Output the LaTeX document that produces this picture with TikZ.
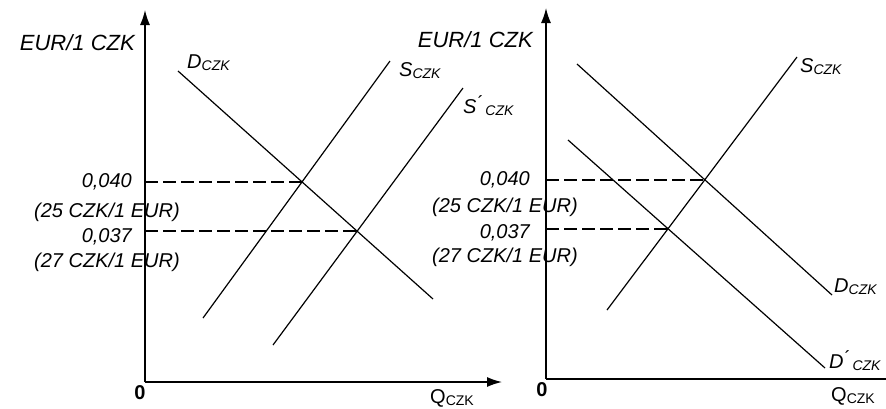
\documentclass[tikz,border=0pt]{standalone}
\usepackage{fontspec}
\setmainfont{Liberation Sans}
\usetikzlibrary{positioning,arrows.meta,calc}
\newcommand{\czk}{\raisebox{-2pt}{\fontsize{14}{14}\selectfont CZK}}
\tikzset{
  ax/.style={line width=1.4pt},
  axarr/.style={ax,-{Latex[length=15pt,width=10pt]}},
  crv/.style={line width=1.2pt},
  dsh/.style={line width=2.4pt,dash pattern=on 13pt off 5pt},
  lbl/.style={font=\fontsize{20}{22}\selectfont\itshape,inner sep=0pt},
  qlbl/.style={font=\fontsize{20}{22}\selectfont,inner sep=0pt},
}

\begin{document}
\begin{tikzpicture}[x=1pt,y=-1pt]
\useasboundingbox (0,0) rectangle (886,408);
% left panel
\coordinate (oL) at (145,382);
\coordinate (yL) at (145,10);
\coordinate (xL) at (502,382);
\coordinate (dL1) at (178,71);
\coordinate (dL2) at (433,299);
\coordinate (sL1) at (203,318);
\coordinate (sL2) at (390,61);
\coordinate (tL1) at (273,345);
\coordinate (tL2) at (463,88);
\coordinate (eqL1) at (intersection of dL1--dL2 and sL1--sL2);
\coordinate (eqL2) at (intersection of dL1--dL2 and tL1--tL2);
\draw[axarr] (oL) -- (yL);
\draw[axarr] (oL) -- (xL);
\draw[crv] (dL1) -- (dL2);
\draw[crv] (sL1) -- (sL2);
\draw[crv] (tL1) -- (tL2);
\draw[dsh] (eqL1 -| oL) -- (eqL1);
\draw[dsh] (eqL2 -| oL) -- (eqL2);
\node[lbl, font=\fontsize{22}{24}\selectfont\itshape, anchor=east] (eurL) at (135,43) {EUR/1 CZK};
\node[lbl, anchor=west] (dLab) at (187,63) {D\czk};
\node[lbl, anchor=west] (sLab) at (399,71) {S\czk};
\node[lbl, anchor=west] (tLab) at (463,106) {S\'{}\,\czk};
\node[qlbl, anchor=west] (qL) at (430,398) {Q\czk};
\node[qlbl, font=\fontsize{20}{22}\selectfont\bfseries, anchor=center] (zL) at (140,393) {0};
\node[lbl, anchor=east] (pL1) at ([xshift=-13pt]eqL1 -| oL) {0,040};
\node[lbl, anchor=east] (rL1) at ([xshift=35pt,yshift=-30pt]eqL1 -| oL) {(25 CZK/1 EUR)};
\node[lbl, anchor=east] (pL2) at ([xshift=-13pt,yshift=-6pt]eqL2 -| oL) {0,037};
\node[lbl, anchor=east] (rL2) at ([xshift=35pt,yshift=-31pt]eqL2 -| oL) {(27 CZK/1 EUR)};
% right panel
\coordinate (oR) at (546,379);
\coordinate (yR) at (546,8);
\coordinate (xR) at (886,379);
\coordinate (dR1) at (577,64);
\coordinate (dR2) at (832,295);
\coordinate (pR1) at (568,140);
\coordinate (pR2) at (825,368);
\coordinate (sR1) at (607,310);
\coordinate (sR2) at (797,57);
\coordinate (eqR1) at (intersection of dR1--dR2 and sR1--sR2);
\coordinate (eqR2) at (intersection of pR1--pR2 and sR1--sR2);
\draw[axarr] (oR) -- (yR);
\draw[ax] (oR) -- (xR);
\draw[crv] (dR1) -- (dR2);
\draw[crv] (pR1) -- (pR2);
\draw[crv] (sR1) -- (sR2);
\draw[dsh] (eqR1 -| oR) -- (eqR1);
\draw[dsh] (eqR2 -| oR) -- (eqR2);
\node[lbl, font=\fontsize{22}{24}\selectfont\itshape, anchor=east] (eurR) at (533,40) {EUR/1 CZK};
\node[lbl, anchor=west] (sRLab) at (800,67) {S\czk};
\node[lbl, anchor=west] (dRLab) at (834,287) {D\czk};
\node[lbl, anchor=west] (pRLab) at (829,361) {D\'{}\,\czk};
\node[qlbl, anchor=west] (qR) at (831,396) {Q\czk};
\node[qlbl, font=\fontsize{20}{22}\selectfont\bfseries, anchor=center] (zR) at (542,390) {0};
\node[lbl, anchor=east] (pR1l) at ([xshift=-16pt]eqR1 -| oR) {0,040};
\node[lbl, anchor=east] (rR1) at ([xshift=32pt,yshift=-28pt]eqR1 -| oR) {(25 CZK/1 EUR)};
\node[lbl, anchor=east] (pR2l) at ([xshift=-16pt,yshift=-4pt]eqR2 -| oR) {0,037};
\node[lbl, anchor=east] (rR2) at ([xshift=32pt,yshift=-29pt]eqR2 -| oR) {(27 CZK/1 EUR)};
\end{tikzpicture}
\end{document}
